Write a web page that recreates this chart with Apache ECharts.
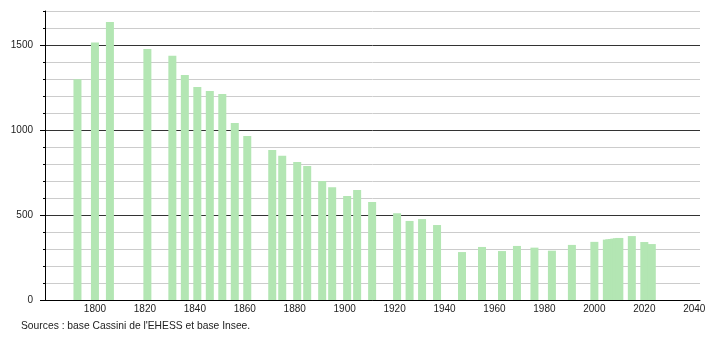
<!DOCTYPE html>
<html>
<head>
<meta charset="utf-8">
<script src="https://cdn.jsdelivr.net/npm/echarts@6/dist/echarts.min.js"></script>
<style>html,body{margin:0;padding:0;background:#fff}#c{width:710px;height:340px}</style>
</head>
<body>
<div id="c"></div>
<script>
var years = [1793,1800,1806,1821,1831,1836,1841,1846,1851,1856,1861,1871,1875,1881,1885,1891,1895,1901,1905,1911,1921,1926,1931,1937,1947,1955,1963,1969,1976,1983,1991,2000,2005,2006,2007,2008,2009,2010,2015,2020,2023];
var population = [1298,1514,1635,1476,1437,1323,1253,1229,1212,1041,965,882,849,812,788,700,663,612,647,576,511,465,476,441,282,312,288,318,308,290,324,342,355,357,359,361,363,365,376,341,329];
var xTicks = [1800,1820,1840,1860,1880,1900,1920,1940,1960,1980,2000,2020,2040];
var yLabels = [0,500,1000,1500];
var sourceText = "Sources : base Cassini de l'EHESS et base Insee.";

var data = years.map(function(y,i){return [y, population[i]];});
var chart = echarts.init(document.getElementById('c'), null, {renderer:'canvas'});
var font = 'Liberation Sans, Arial, sans-serif';
function plain(v){ return String(v); }
chart.setOption({
  animation:false,
  grid:{left:45, right:10, top:11, height:289},
  xAxis:{
    type:'value', min:1780, max:2042.3,
    axisLine:{show:true, lineStyle:{color:'#000', width:1}},
    axisTick:{show:false},
    splitLine:{show:false},
    axisLabel:{customValues:xTicks, formatter:plain, color:'#222', fontSize:10, fontFamily:font, margin:4}
  },
  yAxis:[{
    type:'value', min:0, max:1700, interval:100,
    axisLine:{show:true, lineStyle:{color:'#000', width:1}},
    axisTick:{show:true, length:2, lineStyle:{color:'#000'}},
    splitLine:{show:true, lineStyle:{color:['#333','#ccc','#ccc','#ccc','#ccc'], width:1}},
    axisLabel:{customValues:yLabels, formatter:plain, color:'#222', fontSize:10, fontFamily:font, margin:12}
  },{
    type:'value', min:0, max:1700, position:'left',
    axisLine:{show:false},
    axisTick:{show:true, length:5, customValues:yLabels, lineStyle:{color:'#000'}},
    splitLine:{show:false},
    axisLabel:{show:false}
  }],
  series:[{
    type:'bar', data:data, barWidth:8,
    itemStyle:{color:'#b3e6b3'}
  }],
  graphic:[{
    type:'text', left:21, top:321,
    style:{text:sourceText, fill:'#222', font:'10.3px '+font}
  }]
});
</script>
</body>
</html>
